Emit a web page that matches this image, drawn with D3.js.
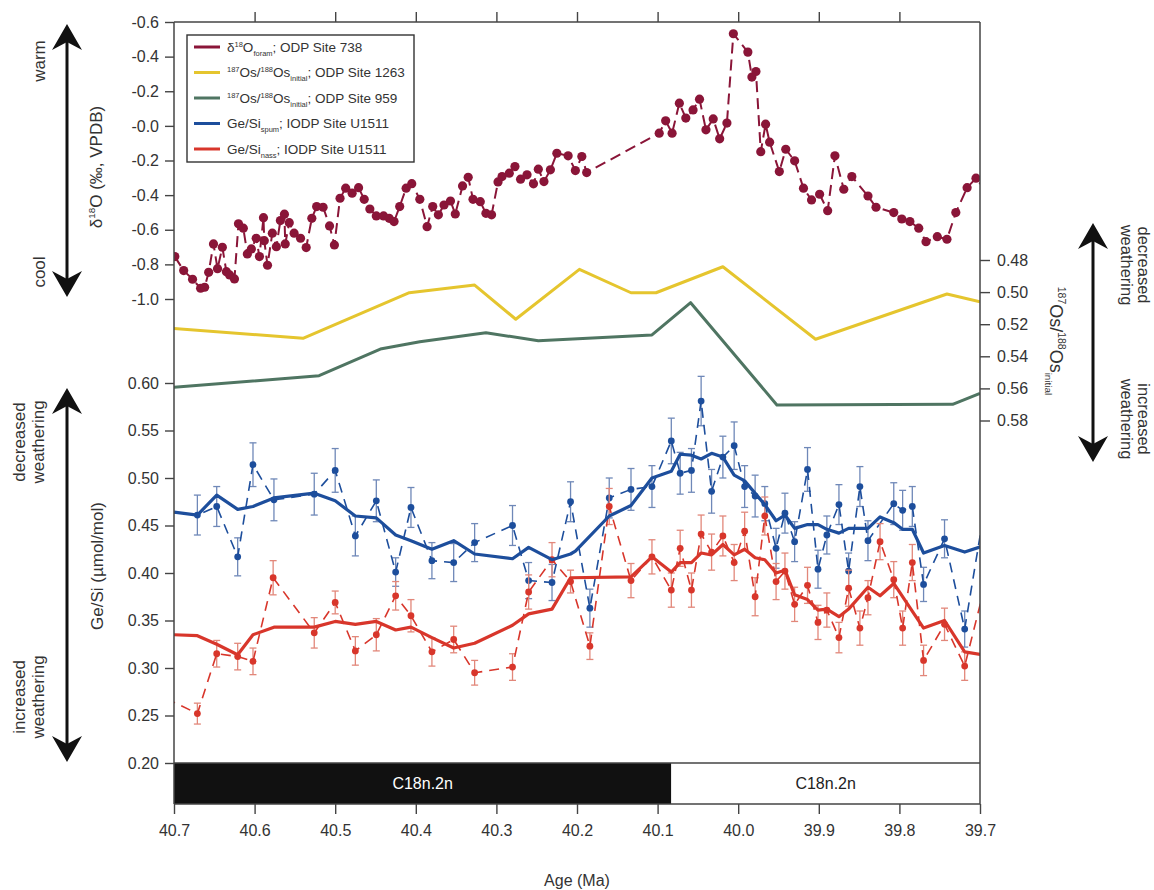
<!DOCTYPE html>
<html><head><meta charset="utf-8">
<script src="https://cdn.jsdelivr.net/npm/d3@7"></script>
<style>
body{margin:0;background:#fff;}
text{font-family:"Liberation Sans",Arial,Helvetica,sans-serif;}
</style>
</head><body>
<svg id="c" width="1154" height="890"></svg>
<script>
// ---------------- DATA ----------------
const ageTicks = [40.7,40.6,40.5,40.4,40.3,40.2,40.1,40.0,39.9,39.8,39.7];
const d18oTicks = [-0.6,-0.4,-0.2,0,0.2,0.4,0.6,0.8,1.0];
const d18oTickLabels = ["-0.6","-0.4","-0.2","-0.0","-0.2","-0.4","-0.6","-0.8","-1.0"];
const osTicks = [0.48,0.50,0.52,0.54,0.56,0.58];
const geTicks = [0.20,0.25,0.30,0.35,0.40,0.45,0.50,0.55,0.60];

const d18oAge = [40.699,40.688,40.677,40.667,40.662,40.657,40.651,40.646,40.640,40.635,40.631,40.625,40.620,40.614,40.609,40.604,40.598,40.594,40.589,40.588,40.584,40.578,40.573,40.568,40.563,40.562,40.557,40.551,40.543,40.536,40.529,40.523,40.515,40.507,40.501,40.494,40.487,40.479,40.471,40.464,40.457,40.449,40.440,40.433,40.427,40.420,40.412,40.405,40.395,40.386,40.379,40.372,40.365,40.357,40.351,40.342,40.335,40.329,40.320,40.313,40.306,40.298,40.293,40.284,40.277,40.270,40.262,40.254,40.248,40.241,40.233,40.225,40.211,40.202,40.194,40.188,
 40.098,40.090,40.082,40.073,40.065,40.056,40.048,40.040,40.031,40.023,40.014,40.006,39.988,39.983,39.978,39.972,39.966,39.961,39.949,39.941,39.930,39.919,39.909,39.899,39.889,39.880,39.869,39.859,39.839,39.829,39.807,39.797,39.787,39.776,39.767,39.753,39.741,39.730,39.716,39.705,39.692];
const d18oVal = [0.755,0.836,0.886,0.938,0.932,0.846,0.682,0.825,0.701,0.842,0.861,0.884,0.566,0.591,0.740,0.711,0.649,0.755,0.530,0.663,0.805,0.620,0.698,0.547,0.510,0.682,0.559,0.620,0.649,0.703,0.534,0.466,0.470,0.578,0.688,0.418,0.360,0.389,0.357,0.424,0.480,0.520,0.520,0.534,0.553,0.466,0.360,0.334,0.424,0.582,0.466,0.514,0.457,0.434,0.509,0.347,0.297,0.424,0.438,0.505,0.514,0.324,0.293,0.273,0.235,0.308,0.283,0.335,0.250,0.322,0.254,0.158,0.173,0.258,0.177,0.270,
 0.042,-0.029,0.042,-0.131,-0.045,-0.092,-0.154,0.023,-0.040,0.075,-0.016,-0.532,-0.426,-0.282,-0.314,0.149,-0.010,0.094,0.264,0.135,0.202,0.360,0.428,0.395,0.490,0.173,0.366,0.293,0.405,0.470,0.501,0.538,0.553,0.591,0.669,0.640,0.655,0.501,0.357,0.302,0.380];

const os1263Age = [40.700,40.540,40.408,40.327,40.276,40.197,40.133,40.102,40.019,39.904,39.741,39.700];
const os1263Val = [0.5226,0.5288,0.5004,0.4956,0.5169,0.4858,0.5004,0.5004,0.4842,0.5294,0.5012,0.5060];

const os959Age = [40.700,40.520,40.444,40.395,40.313,40.248,40.107,40.059,39.952,39.734,39.700];
const os959Val = [0.5593,0.5521,0.5355,0.5309,0.5253,0.5303,0.5267,0.5066,0.5703,0.5699,0.5631];

const spumAge = [40.705,40.671,40.647,40.621,40.602,40.576,40.526,40.500,40.475,40.449,40.425,40.406,40.380,40.353,40.327,40.280,40.260,40.231,40.208,40.184,40.160,40.133,40.107,40.083,40.072,40.058,40.046,40.033,40.019,40.005,39.992,39.979,39.967,39.953,39.942,39.930,39.914,39.901,39.890,39.875,39.863,39.849,39.839,39.807,39.796,39.784,39.770,39.744,39.719,39.690];
const spumVal = [0.464,0.461,0.470,0.417,0.514,0.477,0.483,0.508,0.439,0.476,0.401,0.469,0.413,0.411,0.432,0.450,0.392,0.390,0.475,0.363,0.479,0.488,0.491,0.539,0.505,0.508,0.581,0.486,0.522,0.534,0.491,0.481,0.473,0.426,0.463,0.433,0.509,0.404,0.440,0.472,0.402,0.491,0.434,0.473,0.466,0.470,0.388,0.436,0.341,0.490];
const spumErr = [0.020,0.021,0.021,0.020,0.023,0.022,0.022,0.023,0.021,0.022,0.015,0.021,0.019,0.020,0.020,0.021,0.019,0.019,0.021,0.020,0.021,0.022,0.022,0.024,0.022,0.023,0.026,0.023,0.022,0.025,0.022,0.022,0.018,0.021,0.021,0.021,0.023,0.020,0.020,0.021,0.019,0.021,0.021,0.022,0.021,0.021,0.018,0.020,0.019,0.020];

const nassAge = [40.710,40.671,40.647,40.621,40.602,40.577,40.526,40.500,40.475,40.449,40.425,40.406,40.380,40.353,40.327,40.280,40.260,40.231,40.208,40.184,40.160,40.133,40.107,40.083,40.072,40.058,40.046,40.033,40.019,40.005,39.992,39.979,39.967,39.953,39.942,39.930,39.914,39.901,39.890,39.875,39.863,39.849,39.839,39.824,39.807,39.796,39.784,39.770,39.744,39.719,39.690];
const nassVal = [0.268,0.252,0.315,0.312,0.307,0.395,0.337,0.369,0.318,0.335,0.376,0.355,0.317,0.330,0.295,0.301,0.380,0.414,0.391,0.323,0.470,0.392,0.417,0.382,0.426,0.382,0.441,0.422,0.439,0.411,0.444,0.375,0.460,0.391,0.402,0.367,0.387,0.348,0.361,0.332,0.384,0.342,0.374,0.433,0.393,0.342,0.411,0.308,0.346,0.302,0.400];
const nassErr = [0.012,0.011,0.014,0.014,0.014,0.018,0.016,0.012,0.015,0.017,0.015,0.017,0.015,0.014,0.013,0.014,0.018,0.018,0.012,0.014,0.019,0.018,0.018,0.018,0.019,0.018,0.020,0.019,0.021,0.019,0.020,0.020,0.020,0.019,0.019,0.018,0.019,0.018,0.018,0.016,0.019,0.018,0.018,0.019,0.019,0.018,0.019,0.016,0.017,0.015,0.015];

const spumSmoothAge = [40.700,40.671,40.647,40.621,40.602,40.576,40.526,40.500,40.475,40.449,40.425,40.406,40.380,40.353,40.327,40.280,40.260,40.231,40.208,40.202,40.160,40.133,40.107,40.083,40.072,40.058,40.046,40.033,40.019,40.005,39.992,39.967,39.953,39.942,39.930,39.914,39.901,39.890,39.875,39.863,39.839,39.824,39.807,39.796,39.784,39.770,39.744,39.719,39.698];
const spumSmoothVal = [0.464,0.461,0.482,0.467,0.470,0.479,0.484,0.476,0.460,0.458,0.440,0.434,0.425,0.434,0.420,0.415,0.427,0.414,0.420,0.423,0.460,0.471,0.500,0.507,0.525,0.524,0.520,0.526,0.522,0.503,0.497,0.472,0.455,0.461,0.447,0.451,0.451,0.446,0.442,0.447,0.447,0.459,0.453,0.446,0.446,0.421,0.429,0.422,0.428];

const nassSmoothAge = [40.700,40.671,40.647,40.621,40.602,40.576,40.526,40.500,40.475,40.449,40.425,40.406,40.380,40.353,40.327,40.280,40.260,40.231,40.208,40.133,40.107,40.083,40.072,40.058,40.046,40.033,40.019,40.005,39.992,39.979,39.967,39.953,39.942,39.930,39.914,39.901,39.890,39.875,39.863,39.839,39.824,39.807,39.770,39.744,39.719,39.698];
const nassSmoothVal = [0.335,0.334,0.325,0.314,0.335,0.343,0.343,0.349,0.346,0.349,0.340,0.343,0.332,0.321,0.326,0.345,0.357,0.362,0.395,0.396,0.417,0.401,0.411,0.411,0.421,0.419,0.430,0.419,0.425,0.416,0.414,0.400,0.403,0.377,0.372,0.361,0.362,0.354,0.362,0.385,0.376,0.389,0.342,0.350,0.317,0.314];

const chronAges = [40.7, 40.083, 39.7];
const chronLabels = ["C18n.2n","C18n.2n"];

const legendLabels = [
  [["δ",""],["18","sup"],["O",""],["foram","sub"],["; ODP Site 738",""]],
  [["187","sup"],["Os/",""],["188","sup"],["Os",""],["initial","sub"],["; ODP Site 1263",""]],
  [["187","sup"],["Os/",""],["188","sup"],["Os",""],["initial","sub"],["; ODP Site 959",""]],
  [["Ge/Si",""],["spum","sub"],["; IODP Site U1511",""]],
  [["Ge/Si",""],["nass","sub"],["; IODP Site U1511",""]]
];

// ---------------- STYLE ----------------
const C = {d18o:"#8a1538", y:"#e5c52e", g:"#4f7562", b:"#1d4e9c", r:"#d8362b", bErr:"#6f88b8", rErr:"#e2877a", axis:"#444", text:"#333"};
const legendColors = [C.d18o, C.y, C.g, C.b, C.r];
const FONT = '"Liberation Sans",Arial,Helvetica,sans-serif';

const svg = d3.select("#c");
const L=174, R=980, T=22, B=804, chronTop=763;

const x = d3.scaleLinear().domain([40.7,39.7]).range([L,R]);
const yO = d3.scaleLinear().domain([-0.6,1.0]).range([22,299]);
const yOs = d3.scaleLinear().domain([0.48,0.58]).range([260,420.5]);
const yG = d3.scaleLinear().domain([0.20,0.60]).range([763,383]);

svg.append("defs").append("clipPath").attr("id","clip")
  .append("rect").attr("x",L).attr("y",T).attr("width",R-L).attr("height",chronTop-T);

const plot = svg.append("g").attr("clip-path","url(#clip)");

function zip(a,b){return a.map((d,i)=>[d,b[i]]);}

// Os lines
const osLine = (ys)=>d3.line().x(d=>x(d[0])).y(d=>ys(d[1]));
plot.append("path").attr("d",osLine(yOs)(zip(os1263Age,os1263Val)))
  .attr("fill","none").attr("stroke",C.y).attr("stroke-width",3).attr("stroke-linejoin","round");
plot.append("path").attr("d",osLine(yOs)(zip(os959Age,os959Val)))
  .attr("fill","none").attr("stroke",C.g).attr("stroke-width",3).attr("stroke-linejoin","round");

// d18O
const d18o = zip(d18oAge,d18oVal);
plot.append("path").attr("d",d3.line().x(d=>x(d[0])).y(d=>yO(d[1]))(d18o))
  .attr("fill","none").attr("stroke",C.d18o).attr("stroke-width",2).attr("stroke-dasharray","11,6");
plot.selectAll(".d18").data(d18o).enter().append("circle")
  .attr("cx",d=>x(d[0])).attr("cy",d=>yO(d[1])).attr("r",4.6).attr("fill",C.d18o);

// Ge/Si series
function geSeries(ages,vals,errs,col,errCol){
  const pts = ages.map((a,i)=>({a, v:vals[i], e:errs[i]}));
  const g = plot.append("g");
  g.selectAll(".eb").data(pts).enter().append("line")
    .attr("x1",d=>x(d.a)).attr("x2",d=>x(d.a))
    .attr("y1",d=>yG(d.v-d.e)).attr("y2",d=>yG(d.v+d.e))
    .attr("stroke",errCol).attr("stroke-width",1.3);
  [1,-1].forEach(s=>{
    g.selectAll(".cap"+s).data(pts).enter().append("line")
      .attr("x1",d=>x(d.a)-3.5).attr("x2",d=>x(d.a)+3.5)
      .attr("y1",d=>yG(d.v+s*d.e)).attr("y2",d=>yG(d.v+s*d.e))
      .attr("stroke",errCol).attr("stroke-width",1.3);
  });
  g.append("path").attr("d",d3.line().x(d=>x(d.a)).y(d=>yG(d.v))(pts))
    .attr("fill","none").attr("stroke",col).attr("stroke-width",1.6).attr("stroke-dasharray","10,7");
  g.selectAll(".pt").data(pts).enter().append("circle")
    .attr("cx",d=>x(d.a)).attr("cy",d=>yG(d.v)).attr("r",3.4).attr("fill",col);
}
geSeries(spumAge,spumVal,spumErr,C.b,C.bErr);
geSeries(nassAge,nassVal,nassErr,C.r,C.rErr);

const smLine = d3.line().x(d=>x(d[0])).y(d=>yG(d[1]));
plot.append("path").attr("d",smLine(zip(spumSmoothAge,spumSmoothVal)))
  .attr("fill","none").attr("stroke",C.b).attr("stroke-width",3.2).attr("stroke-linejoin","round");
plot.append("path").attr("d",smLine(zip(nassSmoothAge,nassSmoothVal)))
  .attr("fill","none").attr("stroke",C.r).attr("stroke-width",3.2).attr("stroke-linejoin","round");

// Chron bar
for(let i=0;i<chronLabels.length;i++){
  const x0=x(chronAges[i]), x1=x(chronAges[i+1]);
  svg.append("rect").attr("x",x0).attr("y",chronTop).attr("width",x1-x0).attr("height",B-chronTop)
    .attr("fill", i===0?"#111":"#fff");
  svg.append("text").attr("x",(x0+x1)/2).attr("y",chronTop+26).attr("text-anchor","middle")
    .attr("font-size",16).attr("fill", i===0?"#fff":"#222").text(chronLabels[i]);
}

// Frame
const frame = svg.append("g").attr("stroke",C.axis).attr("stroke-width",1.5).attr("fill","none");
frame.append("line").attr("x1",L).attr("x2",L).attr("y1",T).attr("y2",B);
frame.append("line").attr("x1",R).attr("x2",R).attr("y1",T).attr("y2",B);
frame.append("line").attr("x1",L).attr("x2",R).attr("y1",T).attr("y2",T);
frame.append("line").attr("x1",L).attr("x2",R).attr("y1",B).attr("y2",B);
frame.append("line").attr("x1",L).attr("x2",R).attr("y1",chronTop).attr("y2",chronTop);

function styleAxis(g){
  g.select(".domain").remove();
  g.selectAll("line").attr("stroke",C.axis).attr("stroke-width",1.4);
  g.selectAll("text").attr("font-size",16).attr("fill",C.text).attr("font-family",FONT);
}
// Axes
svg.append("g").attr("transform",`translate(${L},0)`)
  .call(d3.axisLeft(yO).tickValues(d18oTicks).tickFormat((d,i)=>d18oTickLabels[i]).tickSize(9).tickPadding(6)).call(styleAxis);
svg.append("g").attr("transform",`translate(${L},0)`)
  .call(d3.axisLeft(yG).tickValues(geTicks).tickFormat(d3.format(".2f")).tickSize(9).tickPadding(6)).call(styleAxis);
svg.append("g").attr("transform",`translate(${R},0)`)
  .call(d3.axisRight(yOs).tickValues(osTicks).tickFormat(d3.format(".2f")).tickSize(10).tickPadding(7)).call(styleAxis);
svg.append("g").attr("transform",`translate(0,${B})`)
  .call(d3.axisBottom(x).tickValues(ageTicks).tickFormat(d3.format(".1f")).tickSize(10).tickPadding(11)).call(styleAxis);
svg.append("g").attr("transform",`translate(0,${T})`)
  .call(d3.axisTop(x).tickValues(ageTicks.slice(1,-1)).tickFormat("").tickSize(10)).call(styleAxis);

// Axis titles
function richText(g, parts, size){
  const t = g.append("text").attr("font-size",size).attr("fill",C.text).attr("text-anchor","middle");
  let shift = 0;
  parts.forEach(([s,type])=>{
    const ts = t.append("tspan").text(s);
    let target = 0, fs = size;
    if(type==="sup"){target=-0.42*size; fs=size*0.58;}
    if(type==="sub"){target=0.3*size; fs=size*0.55;}
    ts.attr("font-size",fs).attr("dy",target-shift);
    shift = target;
  });
  return t;
}
richText(svg.append("g").attr("transform","translate(102,167) rotate(-90)"),
  [["δ",""],["18","sup"],["O (‰, VPDB)",""]], 17);
richText(svg.append("g").attr("transform","translate(103,566) rotate(-90)"),
  [["Ge/Si (µmol/mol)",""]], 17);
richText(svg.append("g").attr("transform","translate(1050,341) rotate(90)"),
  [["187","sup"],["Os/",""],["188","sup"],["Os",""],["initial","sub"]], 18);
svg.append("text").attr("x",(L+R)/2).attr("y",886).attr("text-anchor","middle")
  .attr("font-size",16).attr("fill",C.text).text("Age (Ma)");

// Arrows
function dblArrow(cx, y0, y1){
  const g = svg.append("g");
  g.append("line").attr("x1",cx).attr("x2",cx).attr("y1",y0+12).attr("y2",y1-12)
    .attr("stroke","#111").attr("stroke-width",3);
  const hw=15, hh=26, nd=18;
  g.append("path").attr("d",`M${cx},${y0} L${cx+hw},${y0+hh} L${cx},${y0+nd} L${cx-hw},${y0+hh} Z`).attr("fill","#111");
  g.append("path").attr("d",`M${cx},${y1} L${cx+hw},${y1-hh} L${cx},${y1-nd} L${cx-hw},${y1-hh} Z`).attr("fill","#111");
}
dblArrow(67, 24, 297);
dblArrow(67, 388, 762);
dblArrow(1093, 223, 462);

function vText(tx, ty, rot, lines, gap, fs){
  const g = svg.append("g").attr("transform",`translate(${tx},${ty}) rotate(${rot})`);
  lines.forEach((s,i)=>{
    g.append("text").attr("x",0).attr("y",i*gap).attr("text-anchor","middle")
      .attr("font-size",fs||17).attr("fill",C.text).text(s);
  });
}
vText(45, 61, -90, ["warm"], 0);
vText(45, 272, -90, ["cool"], 0);
vText(25, 442, -90, ["decreased","weathering"], 18.5);
vText(25, 697, -90, ["increased","weathering"], 18.5);
vText(1138, 265, 90, ["decreased","weathering"], 17.5, 16.5);
vText(1138, 419, 90, ["increased","weathering"], 17.5, 16.5);

// Legend
const lg = svg.append("g");
lg.append("rect").attr("x",187).attr("y",35).attr("width",227).attr("height",127)
  .attr("fill","#fff").attr("stroke","#333").attr("stroke-width",1.4);
legendLabels.forEach((parts,i)=>{
  const yy = 47 + i*25.5;
  lg.append("line").attr("x1",194).attr("x2",220).attr("y1",yy).attr("y2",yy)
    .attr("stroke",legendColors[i]).attr("stroke-width",3);
  const t = lg.append("text").attr("x",227).attr("y",yy+4.5).attr("font-size",13.5).attr("fill",C.text);
  let shift=0;
  parts.forEach(([s,type])=>{
    let target=0, fs=13.5;
    if(type==="sup"){target=-5; fs=7.5;}
    if(type==="sub"){target=4; fs=7.5;}
    t.append("tspan").text(s).attr("font-size",fs).attr("dy",target-shift);
    shift=target;
  });
});
</script>
</body></html>
